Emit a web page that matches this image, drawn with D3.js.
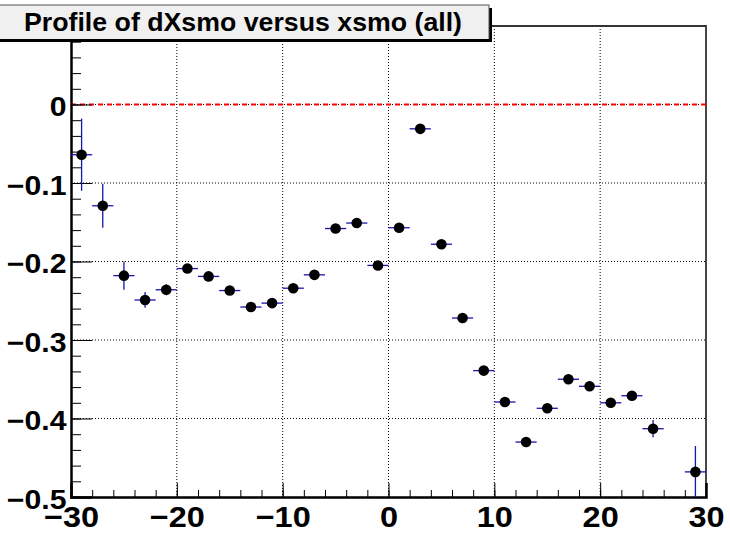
<!DOCTYPE html>
<html lang="en">
<head>
    <meta charset="utf-8">
    <title>Profile of dXsmo versus xsmo (all)</title>
    <script src="https://cdn.jsdelivr.net/npm/d3@7"></script>
    <style type="text/css">
        body { margin: 0; background: #fff; }
        text { font-family: "Liberation Sans", Arial, Helvetica, sans-serif; font-weight: bold; }
    </style>
</head>
<body>
    <script type="text/javascript">

        // bin centres (bin width 2) and profile values
        var binCenters = [-29, -27, -25, -23, -21, -19, -17, -15, -13, -11, -9, -7, -5, -3, -1,
                          1, 3, 5, 7, 9, 11, 13, 15, 17, 19, 21, 23, 25, 29];
        var means = [-0.064, -0.129, -0.218, -0.249, -0.236, -0.209, -0.219, -0.237, -0.258, -0.253,
                     -0.234, -0.217, -0.158, -0.151, -0.205, -0.157, -0.031, -0.178, -0.272, -0.339,
                     -0.379, -0.430, -0.387, -0.350, -0.359, -0.380, -0.371, -0.413, -0.468];
        var errors = [0.046, 0.028, 0.018, 0.010, 0.007, 0.003, 0.003, 0.003, 0.003, 0.004,
                      0.003, 0.003, 0.003, 0.003, 0.003, 0.003, 0.003, 0.003, 0.003, 0.003,
                      0.003, 0.003, 0.003, 0.003, 0.003, 0.003, 0.003, 0.011, 0.033];
        var binHalfWidth = 1;

        var xMajor = [-30, -20, -10, 0, 10, 20, 30];
        var yMajor = [-0.5, -0.4, -0.3, -0.2, -0.1, 0];
        var titleText = "Profile of dXsmo versus xsmo (all)";

        var w = 730, h = 534;
        var padL = 71, padR = 706, padT = 26, padB = 497;

        var x = d3.scaleLinear().domain([-30, 30]).range([padL, padR]);
        var y = d3.scaleLinear().domain([-0.5, 0.1]).range([padB, padT]);

        var svg = d3.select("body").append("svg")
            .attr("width", w)
            .attr("height", h);

        var fmt = function (d) { return d < 0 ? "\u2212" + Math.abs(d) : String(d); };

        // grid
        var grid = svg.append("g");
        grid.selectAll("line.gx")
            .data(xMajor.filter(function (d) { return d > -30 && d < 30; }))
            .enter().append("line")
            .attr("x1", function (d) { return x(d); }).attr("x2", function (d) { return x(d); })
            .attr("y1", padT).attr("y2", padB)
            .attr("stroke", "#000").attr("stroke-width", 1).attr("stroke-dasharray", "1,2");
        grid.selectAll("line.gy")
            .data(yMajor.filter(function (d) { return d > -0.5; }))
            .enter().append("line")
            .attr("x1", padL).attr("x2", padR)
            .attr("y1", function (d) { return y(d); }).attr("y2", function (d) { return y(d); })
            .attr("stroke", "#000").attr("stroke-width", 1).attr("stroke-dasharray", "1,2");

        // frame (top and right)
        svg.append("path")
            .attr("d", "M" + padL + "," + padT + "H" + padR + "V" + padB)
            .attr("fill", "none").attr("stroke", "#333").attr("stroke-width", 1.8);

        // zero reference line
        svg.append("line")
            .attr("x1", padL).attr("x2", padR)
            .attr("y1", y(0)).attr("y2", y(0))
            .attr("stroke", "#ff0000").attr("stroke-width", 2).attr("stroke-dasharray", "5,4");

        // axes
        var yMinor = d3.range(-0.5, 0.1001, 0.02);
        svg.append("g").attr("transform", "translate(" + padL + ",0)")
            .call(d3.axisLeft(y).tickValues(yMinor).tickSize(-10).tickFormat(""))
            .call(function (g) { g.select(".domain").remove(); });
        var yAxis = svg.append("g").attr("transform", "translate(" + padL + ",0)")
            .call(d3.axisLeft(y).tickValues(yMajor).tickSize(-21).tickPadding(4).tickFormat(fmt));

        var xMinor = d3.range(-30, 30.001, 2);
        svg.append("g").attr("transform", "translate(0," + padB + ")")
            .call(d3.axisBottom(x).tickValues(xMinor).tickSize(-7).tickFormat(""))
            .call(function (g) { g.select(".domain").remove(); });
        var xAxis = svg.append("g").attr("transform", "translate(0," + padB + ")")
            .call(d3.axisBottom(x).tickValues(xMajor).tickSize(-14).tickPadding(9).tickFormat(fmt));

        svg.selectAll(".tick line").attr("stroke", "#000").attr("stroke-width", 1);
        yAxis.select(".domain").attr("stroke", "#000").attr("stroke-width", 2.5);
        xAxis.select(".domain").attr("stroke", "#000").attr("stroke-width", 2.5);
        yAxis.selectAll(".tick text")
            .attr("font-size", 27).attr("fill", "#000").attr("dy", "0.42em")
            .attr("transform", "scale(1.12,1)");
        xAxis.selectAll(".tick text")
            .attr("font-size", 29).attr("fill", "#000")
            .attr("transform", "scale(1.12,1)");

        // profile points with error bars
        var pts = binCenters.map(function (c, i) { return { c: c, m: means[i], e: errors[i] }; });
        var marks = svg.append("g");
        marks.selectAll("line.eh").data(pts).enter().append("line")
            .attr("x1", function (d) { return x(d.c - binHalfWidth); })
            .attr("x2", function (d) { return x(d.c + binHalfWidth); })
            .attr("y1", function (d) { return y(d.m); }).attr("y2", function (d) { return y(d.m); })
            .attr("stroke", "#1515b0").attr("stroke-width", 1.3);
        marks.selectAll("line.ev").data(pts).enter().append("line")
            .attr("x1", function (d) { return x(d.c); }).attr("x2", function (d) { return x(d.c); })
            .attr("y1", function (d) { return y(d.m + d.e); })
            .attr("y2", function (d) { return Math.min(padB, y(d.m - d.e)); })
            .attr("stroke", "#1515b0").attr("stroke-width", 1.3);
        marks.selectAll("circle").data(pts).enter().append("circle")
            .attr("cx", function (d) { return x(d.c); })
            .attr("cy", function (d) { return y(d.m); })
            .attr("r", 5.3).attr("fill", "#000");

        // title box
        var tb = svg.append("g");
        tb.append("rect").attr("x", -5).attr("y", 8).attr("width", 497).attr("height", 34).attr("fill", "#000");
        tb.append("rect").attr("x", -5).attr("y", 5).attr("width", 494).attr("height", 35)
            .attr("fill", "#f0f0f0").attr("stroke", "#555").attr("stroke-width", 1);
        tb.append("line").attr("x1", 0).attr("x2", 490).attr("y1", 40).attr("y2", 40)
            .attr("stroke", "#000").attr("stroke-width", 2);
        tb.append("text").attr("x", 24).attr("y", 31)
            .attr("font-size", 25).attr("fill", "#000")
            .attr("textLength", 438).attr("lengthAdjust", "spacingAndGlyphs")
            .text(titleText);

    </script>
</body>
</html>
